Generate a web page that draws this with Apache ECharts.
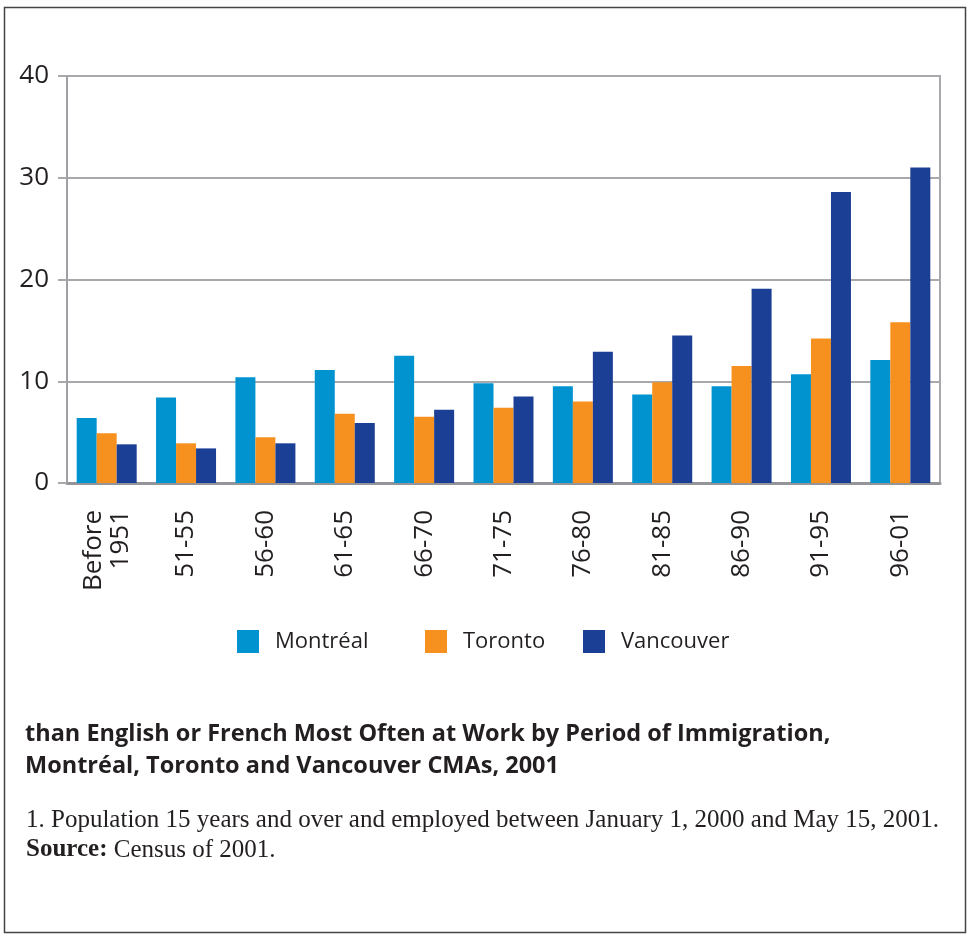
<!DOCTYPE html>
<html>
<head>
<meta charset="utf-8">
<script src="https://cdn.jsdelivr.net/npm/echarts@6/dist/echarts.min.js"></script>
<style>
html,body{margin:0;padding:0;background:#fff;}
#chart{width:970px;height:942px;}
</style>
</head>
<body>
<div id="chart"></div>
<script>
var categories = ['Before\n1951','51-55','56-60','61-65','66-70','71-75','76-80','81-85','86-90','91-95','96-01'];
var montreal  = [6.4, 8.4, 10.4, 11.1, 12.5, 9.8, 9.5, 8.7, 9.5, 10.7, 12.1];
var toronto   = [4.9, 3.9, 4.5, 6.8, 6.5, 7.4, 8.0, 9.9, 11.5, 14.2, 15.8];
var vancouver = [3.8, 3.4, 3.9, 5.9, 7.2, 8.5, 12.9, 14.5, 19.1, 28.6, 31.0];
var yTicks = [0, 10, 20, 30, 40];
var seriesNames = ['Montréal', 'Toronto', 'Vancouver'];
var titleLines = ['than English or French Most Often at Work by Period of Immigration,', 'Montréal, Toronto and Vancouver CMAs, 2001'];
var noteLine = '1. Population 15 years and over and employed between January 1, 2000 and May 15, 2001.';
var sourceLabel = 'Source:';
var sourceText = ' Census of 2001.';

var colors = ['#0093d0', '#f6901e', '#1b3f94'];
var txt = '#231f20';
var gridGray = '#a7a9ac';
var chart = echarts.init(document.getElementById('chart'));

function legendAt(name, left) {
  return {
    data: [name], left: left, top: 630, icon: 'rect', padding: 0,
    itemWidth: 22, itemHeight: 23,
    textStyle: { fontFamily: 'Open Sans', fontSize: 22, color: txt, padding: [0, 0, 0, 11] },
    selectedMode: false
  };
}

var option = {
  backgroundColor: '#fff',
  animation: false,
  color: colors,
  graphic: [{
    type: 'rect', shape: { x: 4.5, y: 7.5, width: 961, height: 925 },
    style: { fill: 'none', stroke: '#444', lineWidth: 1.5 }, silent: true, z: -1
  }],
  title: [{
    text: titleLines.join('\n'), left: 25, top: 718, padding: 0,
    textStyle: { fontFamily: 'Open Sans', fontWeight: 'bold', fontSize: 23.5, color: txt, lineHeight: 32 }
  }, {
    text: '{n|' + noteLine + '}\n{b|' + sourceLabel + '}{n|' + sourceText + '}',
    left: 26, top: 805, padding: 0,
    textStyle: {
      fontWeight: 'normal',
      lineHeight: 30,
      rich: {
        n: { fontFamily: 'Liberation Serif', fontSize: 25, fontWeight: 'normal', color: txt, lineHeight: 30 },
        b: { fontFamily: 'Liberation Serif', fontSize: 25, fontWeight: 'bold', color: txt, lineHeight: 30 }
      }
    }
  }],
  legend: [legendAt(seriesNames[0], 237), legendAt(seriesNames[1], 425), legendAt(seriesNames[2], 583)],
  grid: {
    left: 67, right: 30, top: 76, bottom: 459, containLabel: false,
    show: true, borderColor: gridGray, borderWidth: 2, backgroundColor: 'transparent'
  },
  xAxis: {
    type: 'category', data: categories,
    axisLine: { lineStyle: { color: '#939598', width: 3 } },
    axisTick: { show: false },
    axisLabel: {
      interval: 0, rotate: 90, margin: 27,
      fontFamily: 'Open Sans', fontSize: 26, color: txt, lineHeight: 27
    }
  },
  yAxis: {
    type: 'value', min: yTicks[0], max: yTicks[yTicks.length - 1], interval: 10,
    axisLine: { show: true, lineStyle: { color: '#a0a1a4', width: 2 } },
    axisTick: { show: true, length: 9, lineStyle: { color: gridGray, width: 2 } },
    splitLine: { lineStyle: { color: gridGray, width: 2 } },
    axisLabel: { margin: 18, fontFamily: 'Open Sans', fontSize: 26, color: txt }
  },
  series: [
    { name: seriesNames[0], type: 'bar', data: montreal, barWidth: 20, barGap: '0%' },
    { name: seriesNames[1], type: 'bar', data: toronto, barWidth: 20, barGap: '0%' },
    { name: seriesNames[2], type: 'bar', data: vancouver, barWidth: 20, barGap: '0%' }
  ]
};
chart.setOption(option);
</script>
</body>
</html>
